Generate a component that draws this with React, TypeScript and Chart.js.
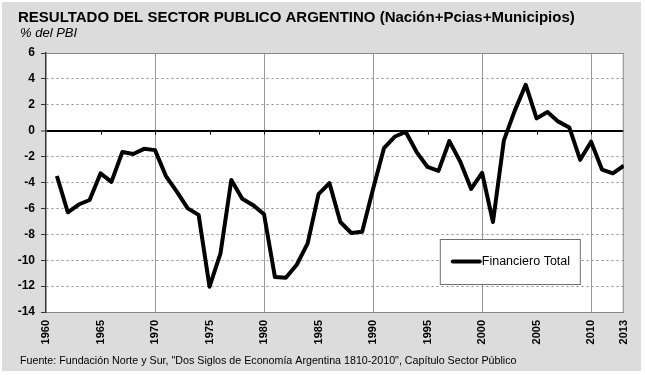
import React, { useEffect, useRef } from "react";
import { Chart, registerables } from "chart.js";

Chart.register(...registerables);

const titleText = "RESULTADO DEL SECTOR PUBLICO ARGENTINO (Nación+Pcias+Municipios)";
const subtitleText = "% del PBI";
const footerText =
  'Fuente: Fundación Norte y Sur, "Dos Siglos de Economía Argentina 1810-2010", Capítulo Sector Público';
const seriesLabel = "Financiero Total";

const years = [
  1961, 1962, 1963, 1964, 1965, 1966, 1967, 1968, 1969, 1970,
  1971, 1972, 1973, 1974, 1975, 1976, 1977, 1978, 1979, 1980,
  1981, 1982, 1983, 1984, 1985, 1986, 1987, 1988, 1989, 1990,
  1991, 1992, 1993, 1994, 1995, 1996, 1997, 1998, 1999, 2000,
  2001, 2002, 2003, 2004, 2005, 2006, 2007, 2008, 2009, 2010,
  2011, 2012, 2013,
];

const financieroTotal = [
  -3.5, -6.3, -5.7, -5.35, -3.3, -3.95, -1.65, -1.8, -1.4, -1.5,
  -3.5, -4.7, -6.0, -6.5, -12.05, -9.5, -3.8, -5.25, -5.75, -6.45,
  -11.3, -11.35, -10.35, -8.7, -4.9, -4.05, -7.05, -7.9, -7.8, -4.5,
  -1.35, -0.45, -0.1, -1.65, -2.8, -3.1, -0.8, -2.4, -4.5, -3.25,
  -7.05, -0.75, 1.55, 3.55, 0.95, 1.45, 0.7, 0.25, -2.25, -0.85,
  -3.0, -3.3, -2.7,
];

const xTickValues = [1960, 1965, 1970, 1975, 1980, 1985, 1990, 1995, 2000, 2005, 2010, 2013];
const yMin = -14;
const yMax = 6;
const yStep = 2;

const FONT = "'Liberation Sans', Arial, sans-serif";

const decorPlugin = {
  id: "decor",
  beforeDraw(chart: any) {
    const { ctx, width, height, chartArea } = chart;
    ctx.save();
    ctx.fillStyle = "#ffffff";
    ctx.fillRect(0, 0, width, height);
    ctx.fillStyle = "#dcdcdc";
    ctx.fillRect(2, 2, width - 6, height - 6);
    ctx.fillStyle = "#ffffff";
    ctx.fillRect(chartArea.left, chartArea.top, chartArea.right - chartArea.left, chartArea.bottom - chartArea.top);
    ctx.restore();
  },
  beforeDatasetsDraw(chart: any) {
    const { ctx, chartArea, scales } = chart;
    ctx.save();
    ctx.strokeStyle = "#888888";
    ctx.lineWidth = 1;
    ctx.beginPath();
    ctx.moveTo(chartArea.left, chartArea.top + 0.5);
    ctx.lineTo(chartArea.right - 0.5, chartArea.top + 0.5);
    ctx.lineTo(chartArea.right - 0.5, chartArea.bottom);
    ctx.stroke();
    const y0 = scales.y.getPixelForValue(0);
    ctx.strokeStyle = "#000000";
    ctx.beginPath();
    xTickValues.forEach((v) => {
      if (v % 5 !== 0 || v === xTickValues[0]) return;
      const px = Math.round(scales.x.getPixelForValue(v)) + 0.5;
      ctx.moveTo(px, y0);
      ctx.lineTo(px, y0 + 4);
    });
    ctx.stroke();
    ctx.restore();
  },
  afterDatasetsDraw(chart: any) {
    const { ctx, chartArea } = chart;
    const bx = chartArea.right - 184;
    const by = chartArea.bottom - 73;
    const bw = 140;
    const bh = 45;
    ctx.save();
    ctx.fillStyle = "#ffffff";
    ctx.fillRect(bx, by, bw, bh);
    ctx.strokeStyle = "#707070";
    ctx.lineWidth = 1;
    ctx.strokeRect(bx + 0.5, by + 0.5, bw, bh);
    const my = by + bh / 2;
    ctx.strokeStyle = "#000000";
    ctx.lineWidth = 4;
    ctx.lineCap = "round";
    ctx.beginPath();
    ctx.moveTo(bx + 13, my);
    ctx.lineTo(bx + 40, my);
    ctx.stroke();
    ctx.fillStyle = "#000000";
    ctx.font = `12.5px ${FONT}`;
    ctx.textBaseline = "middle";
    ctx.textAlign = "left";
    ctx.fillText(chart.data.datasets[0].label, bx + 42, my + 0.5);
    ctx.restore();
  },
  afterDraw(chart: any) {
    const { ctx } = chart;
    ctx.save();
    ctx.fillStyle = "#000000";
    ctx.textAlign = "left";
    ctx.textBaseline = "alphabetic";
    ctx.font = `bold 15px ${FONT}`;
    ctx.fillText(titleText, 18, 22);
    ctx.font = `italic 13px ${FONT}`;
    ctx.fillText(subtitleText, 20, 37);
    ctx.font = `10.7px ${FONT}`;
    ctx.fillText(footerText, 20, 364);
    ctx.restore();
  },
};

export default function App() {
  const canvasRef = useRef<HTMLCanvasElement | null>(null);

  useEffect(() => {
    const canvas = canvasRef.current;
    if (!canvas) return;
    const chart = new Chart(canvas, {
      type: "line",
      data: {
        datasets: [
          {
            label: seriesLabel,
            data: years.map((yr, i) => ({ x: yr, y: financieroTotal[i] })),
            borderColor: "#000000",
            borderWidth: 4,
            pointRadius: 0,
            tension: 0,
            fill: false,
            borderJoinStyle: "round",
          },
        ],
      },
      options: {
        responsive: false,
        animation: false,
        devicePixelRatio: 1,
        layout: { padding: { top: 53, left: 0, right: 18, bottom: 28 } },
        plugins: {
          legend: { display: false },
          tooltip: { enabled: false },
          title: { display: false },
        },
        scales: {
          x: {
            type: "linear",
            min: 1960,
            max: 2013,
            afterBuildTicks: (scale: any) => {
              scale.ticks = xTickValues.map((v) => ({ value: v }));
            },
            afterFit: (scale: any) => {
              scale.height = 35;
            },
            ticks: {
              autoSkip: false,
              minRotation: 90,
              maxRotation: 90,
              padding: 8,
              color: "#000000",
              font: { family: FONT, size: 11, weight: "bold" },
              callback: (v: any) => String(v),
            },
            grid: {
              drawTicks: false,
              color: (c: any) => {
                const v = c.tick ? c.tick.value : null;
                if (v !== null && v % 10 === 0 && v !== 1960) return "#999999";
                return "rgba(0,0,0,0)";
              },
              lineWidth: 1,
            },
            border: { color: "#888888", width: 1 },
          },
          y: {
            min: yMin,
            max: yMax,
            afterFit: (scale: any) => {
              scale.width = 46;
            },
            ticks: {
              stepSize: yStep,
              padding: 6,
              color: "#000000",
              font: { family: FONT, size: 12, weight: "bold" },
            },
            grid: {
              drawTicks: true,
              tickLength: 5,
              tickColor: "#333333",
              tickWidth: 1,
              color: (c: any) => {
                const v = c.tick ? c.tick.value : null;
                if (v === 0) return "#000000";
                if (v === yMax) return "#888888";
                if (v === yMin) return "rgba(0,0,0,0)";
                return "#8a8a8a";
              },
              lineWidth: (c: any) => (c.tick && c.tick.value === 0 ? 2 : 1),
            },
            border: {
              color: "#333333",
              width: 1.5,
              dash: (c: any) => {
                if (!c || !c.tick) return [];
                const v = c.tick.value;
                if (v === 0 || v === yMax || v === yMin) return [];
                return [2, 3];
              },
            },
          },
        },
      },
      plugins: [decorPlugin],
    } as any);
    return () => chart.destroy();
  }, []);

  return (
    <div style={{ position: "absolute", left: 0, top: 0, width: 645, height: 375 }}>
      <canvas ref={canvasRef} width={645} height={375} />
    </div>
  );
}
